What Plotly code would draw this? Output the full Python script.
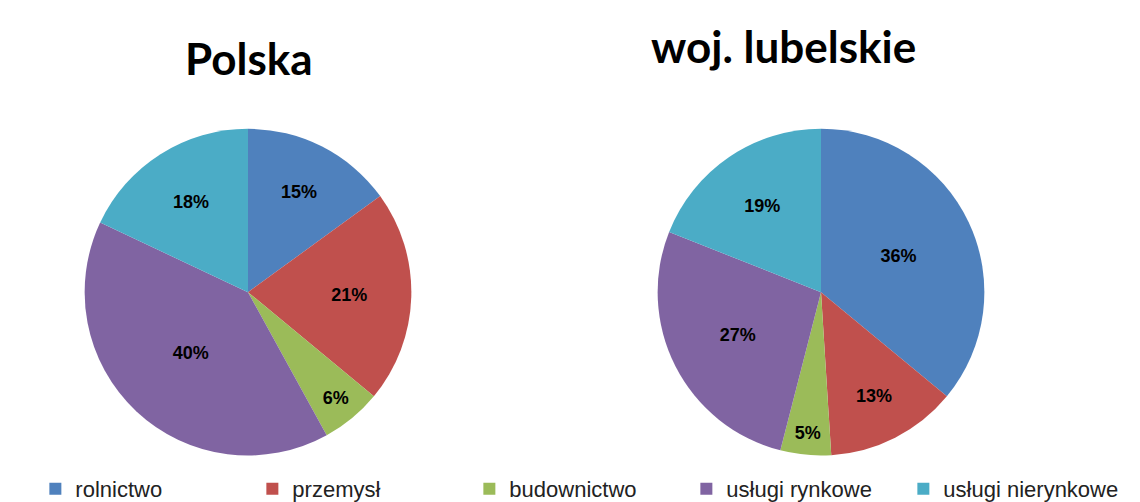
import plotly.graph_objects as go

categories = ["rolnictwo", "przemysł", "budownictwo", "usługi rynkowe", "usługi nierynkowe"]
polska = [15, 21, 6, 40, 18]
lubelskie = [36, 13, 5, 27, 19]
colors = ["#4F81BD", "#C0504D", "#9BBB59", "#8064A2", "#4BACC6"]
titles = ["Polska", "woj. lubelskie"]

W, H = 1140, 502

def px_dom(x0, x1, y0, y1):
    return dict(x=[x0 / W, x1 / W], y=[1 - y1 / H, 1 - y0 / H])

fig = go.Figure()
common = dict(
    labels=categories,
    sort=False,
    direction="clockwise",
    rotation=0,
    marker=dict(colors=colors, line=dict(color="white", width=0)),
    textinfo="percent",
    texttemplate="<b>%{percent:.0%}</b>",
    textposition="inside",
    insidetextorientation="horizontal",
    textfont=dict(family="Liberation Sans", size=18, color="black"),
    hoverinfo="label+percent",
)
fig.add_trace(go.Pie(values=polska, name=titles[0], domain=px_dom(75, 405, 122, 452), **common))
fig.add_trace(go.Pie(values=lubelskie, name=titles[1], domain=px_dom(648, 978, 122, 452), **common))

fig.add_annotation(text="<b>Polska</b>", x=241 / W, y=1 - 50 / H, xref="paper", yref="paper",
                   xanchor="center", yanchor="middle",
                   showarrow=False, font=dict(family="Lato", size=44, color="black"))
fig.add_annotation(text="<b>woj. lubelskie</b>", x=775 / W, y=1 - 38 / H, xref="paper", yref="paper",
                   xanchor="center", yanchor="middle",
                   showarrow=False, font=dict(family="Lato", size=44, color="black"))

fig.update_layout(
    width=W, height=H,
    margin=dict(l=0, r=0, t=0, b=0),
    paper_bgcolor="white",
    plot_bgcolor="white",
    legend=dict(orientation="h", x=0.024, y=1 - 486 / H, xanchor="left", yanchor="middle",
                font=dict(family="Liberation Sans", size=22, color="#222"),
                itemwidth=30, entrywidth=172, entrywidthmode="pixels", tracegroupgap=0),
)
fig.write_html("out.html")
